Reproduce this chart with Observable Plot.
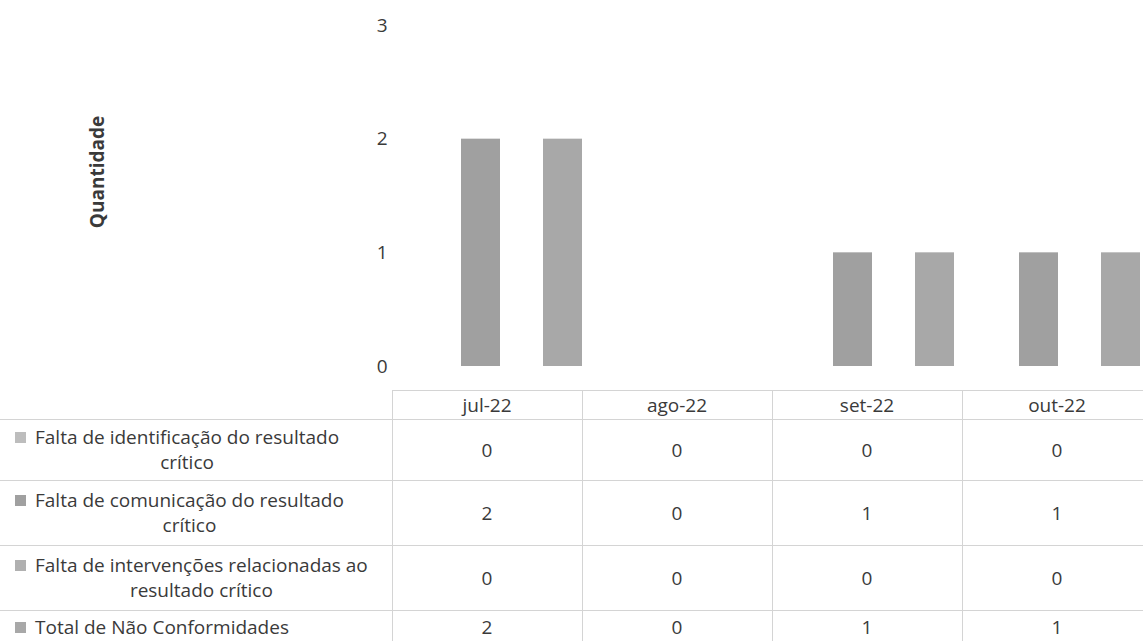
<!DOCTYPE html>
<html><head><meta charset="utf-8">
<script src="https://cdn.jsdelivr.net/npm/d3@7"></script>
<script src="https://cdn.jsdelivr.net/npm/@observablehq/plot@0.6"></script>
<style>
body{margin:0;background:#fff;width:1143px;height:641px;overflow:hidden;font-family:"Open Sans",sans-serif;color:#3a3a3a;position:relative}
#chart{position:absolute;left:0;top:0}
#chart svg{overflow:visible}
g[aria-label="y-axis label"] text{font-weight:700;font-size:19px}
table{position:absolute;left:0;top:390px;border-collapse:collapse;table-layout:fixed;width:1152px;font-size:19px;color:#3a3a3a}
td{border:1px solid #d4d4d4;padding:0;text-align:center;vertical-align:middle;white-space:nowrap}
td.corner{border-top:none;border-left:none}
td.lab{border-left:none;text-align:left;padding-left:35px}
.inner{position:relative;display:inline-block;text-align:center;line-height:25px}
.key{position:absolute;left:-20px;top:7px;width:11px;height:11px}
</style></head><body><div id="chart"></div><div id="tbl"></div>
<script>
const months = ["jul-22","ago-22","set-22","out-22"];
const seriesNames = [
  "Falta de identificação do resultado crítico",
  "Falta de comunicação do resultado crítico",
  "Falta de intervenções relacionadas ao resultado crítico",
  "Total de Não Conformidades"
];
const labelLines = [
  ["Falta de identificação do resultado","crítico"],
  ["Falta de comunicação do resultado","crítico"],
  ["Falta de intervenções relacionadas ao","resultado crítico"],
  ["Total de Não Conformidades"]
];
const identificacao = [0,0,0,0];
const comunicacao = [2,0,1,1];
const intervencoes = [0,0,0,0];
const total = [2,0,1,1];
const yTicks = [0,1,2,3];
const colors = ["#bdbdbd","#a0a0a0","#b0b0b0","#a8a8a8"];

const seriesValues = [identificacao, comunicacao, intervencoes, total];
const data = [];
seriesNames.forEach((s,i)=>months.forEach((m,j)=>data.push({month:m, series:s, value:seriesValues[i][j]})));

const plot = Plot.plot({
  width:1143, height:390, marginTop:25, marginBottom:24, marginLeft:417, marginRight:0,
  style:{fontFamily:"Open Sans", fontSize:"19px", color:"#3a3a3a", background:"transparent"},
  fx:{domain:months, padding:0.1, axis:null},
  x:{domain:seriesNames, padding:0.05, axis:null},
  y:{domain:[0,3], ticks:yTicks, label:"Quantidade", tickSize:0, tickPadding:30, labelAnchor:"center", labelOffset:327, labelArrow:"none", tickFormat:d=>d},
  color:{domain:seriesNames, range:colors},
  marks:[Plot.barY(data,{fx:"month", x:"series", y:"value", fill:"series"})]
});
const lab = plot.querySelector('g[aria-label="y-axis label"]');
if (lab) lab.setAttribute("transform", (lab.getAttribute("transform") || "") + " translate(0,-24)");
document.getElementById("chart").appendChild(plot);

const heights = [61,65,65,33];
let html = '<table><colgroup><col style="width:392px">' + months.map(()=>'<col style="width:190px">').join('') + '</colgroup>';
html += '<tr style="height:29px"><td class="corner"></td>' + months.map(m=>`<td>${m}</td>`).join('') + '</tr>';
seriesNames.forEach((s,i)=>{
  html += `<tr style="height:${heights[i]}px"><td class="lab"><div class="inner"><span class="key" style="background:${colors[i]}"></span>${labelLines[i].join('<br>')}</div></td>` +
    seriesValues[i].map(v=>`<td>${v}</td>`).join('') + '</tr>';
});
html += '</table>';
document.getElementById("tbl").innerHTML = html;
</script>
</body></html>
